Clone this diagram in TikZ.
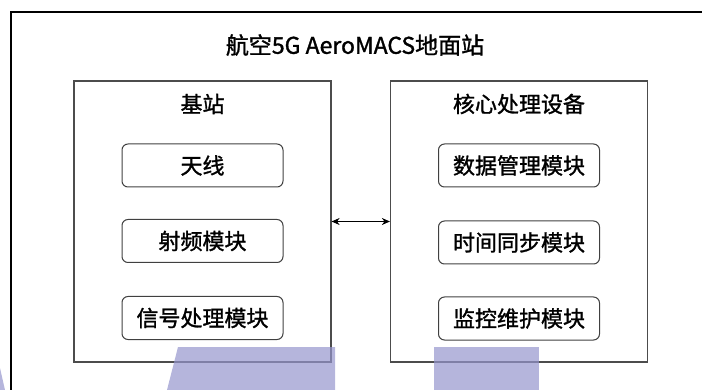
\documentclass[tikz,border=0pt]{standalone}
\usepackage{fontspec}
\setmainfont{Noto Sans CJK SC}[FakeBold=1.3,AutoFakeBold=1.3]
\usetikzlibrary{arrows.meta,positioning,calc}
\definecolor{wmark}{RGB}{150,150,205}

\begin{document}
\begin{tikzpicture}[x=1pt,y=-1pt,>={Stealth[length=8pt,width=7pt]},
    outer/.style={draw=black,line width=1.2pt},
    group/.style={draw=black!70,line width=1.2pt,minimum width=257pt,
      minimum height=281pt},
    module/.style={draw=black!75,rounded corners=6pt,line width=1pt,
      minimum width=161pt,minimum height=43pt,
      font=\fontsize{22}{24}\selectfont\bfseries},
    head/.style={font=\fontsize{22}{24}\selectfont\bfseries}]
  \useasboundingbox (0,0) rectangle (702,390);
  \clip (0,0) rectangle (702,390);

  % ground station frame, cut by the page edge
  \draw[outer] (11,12) rectangle (760,440);
  \node[head,font=\fontsize{23}{25}\selectfont\bfseries] (title) at (355,45)
    {航空5G AeroMACS地面站};

  \node[group] (bs) at (202.5,221.5) {};
  \node[group] (core) at (519,221.5) {};
  \node[head] (bshead) at (202.5,104) {基站};
  \node[head] (corehead) at (519,104) {核心处理设备};

  \node[module] (antenna) at (202.5,165.5) {天线};
  \node[module] (rf) at (202.5,241) {射频模块};
  \node[module] (signal) at (202.5,318) {信号处理模块};

  \node[module] (data) at (519,165.5) {数据管理模块};
  \node[module] (sync) at (519,242.5) {时间同步模块};
  \node[module] (monitor) at (519,318.5) {监控维护模块};

  \draw[<->,line width=1pt] (bs.east) -- (core.west);

  % lavender marks at the bottom
  \fill[wmark,fill opacity=0.7] (178,347) -- (335,347) -- (335,390)
    -- (167,390) -- cycle;
  \fill[wmark,fill opacity=0.7] (434,347) rectangle (539,390);
  \fill[wmark,fill opacity=0.7] (0,368) -- (5,390) -- (0,390) -- cycle;

\end{tikzpicture}
\end{document}
